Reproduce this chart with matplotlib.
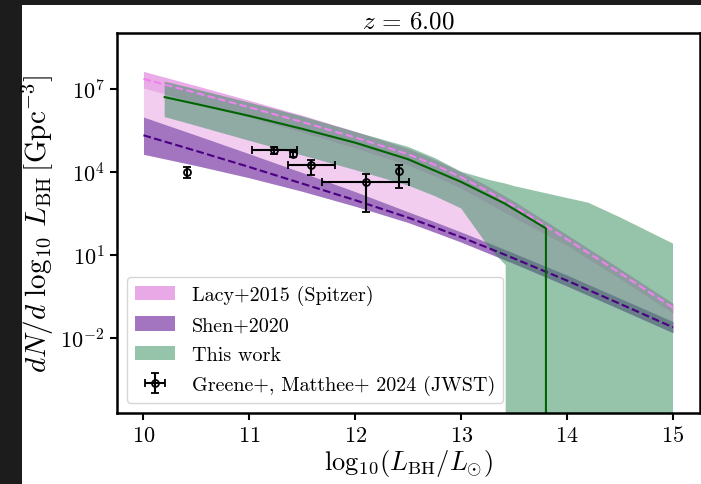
import numpy as np
import matplotlib
matplotlib.use("Agg")
import matplotlib.pyplot as plt
from matplotlib.patches import Rectangle, Patch
from matplotlib.ticker import FixedLocator, NullLocator, LogFormatterSciNotation

plt.rcParams['font.family'] = ['cmr10', 'DejaVu Serif']
plt.rcParams['mathtext.fontset'] = 'cm'
plt.rcParams['axes.formatter.use_mathtext'] = True

# ---------------- data (log10 of dN/dlogL in Gpc^-3) ----------------
x_lit = np.array([10.0, 10.5, 11.0, 11.5, 12.0, 12.5, 12.75, 13.0, 13.25, 13.5, 14.0, 14.5, 15.0])

lacy_mid = np.array([7.36, 6.85, 6.33, 5.80, 5.24, 4.63, 4.25, 3.80, 3.30, 2.75, 1.55, 0.33, -0.92])
lacy_hi = np.array([7.63, 7.11, 6.58, 6.04, 5.46, 4.84, 4.44, 3.99, 3.48, 2.93, 1.72, 0.49, -0.76])
lacy_lo = np.array([7.03, 6.50, 5.97, 5.43, 4.86, 4.24, 3.85, 3.40, 2.88, 2.34, 1.33, 0.13, -1.12])

shen_mid = np.array([5.32, 4.75, 4.17, 3.57, 2.97, 2.34, 1.99, 1.63, 1.25, 0.86, 0.06, -0.78, -1.63])
shen_hi = np.array([5.98, 5.32, 4.65, 3.97, 3.28, 2.55, 2.19, 1.82, 1.44, 1.05, 0.26, -0.58, -1.42])
shen_lo = np.array([4.63, 4.22, 3.78, 3.29, 2.75, 2.16, 1.81, 1.45, 1.06, 0.67, -0.14, -0.98, -1.83])

x_green = np.array([10.2, 10.5, 11.0, 11.5, 12.0, 12.5, 12.75, 13.0, 13.27, 13.42, 13.42,
                    13.5, 14.0, 14.2, 14.5, 15.0])
green_hi = np.array([7.26, 6.98, 6.50, 6.00, 5.44, 4.90, 4.50, 4.00, 3.70, 3.57, 3.57,
                     3.48, 3.05, 2.88, 2.35, 1.40])
# lower bound in linear units; 0 where the model predicts no objects
green_lo = np.array([10**5.98, 10**5.66, 10**5.12, 10**4.59, 10**4.06, 10**3.50, 10**3.12, 10**2.67,
                     10**1.22, 10**0.62, 0, 0, 0, 0, 0, 0])

x_gline = np.array([10.2, 10.5, 11.0, 11.5, 12.0, 12.5, 13.0, 13.41, 13.8, 13.8, 15.0])
gline = np.array([10**6.70, 10**6.45, 10**6.02, 10**5.55, 10**5.05, 10**4.45, 10**3.63,
                  10**2.85, 10**1.95, 0, 0])

# JWST points (Greene+, Matthee+ 2024)
jw_x = np.array([10.41, 11.23, 11.41, 11.58, 12.10, 12.41])
jw_y = np.array([3.99, 4.80, 4.63, 4.23, 3.63, 4.01])
jw_yhi = np.array([4.17, 4.89, 4.71, 4.41, 3.91, 4.23])
jw_ylo = np.array([3.79, 4.65, 4.53, 3.87, 2.55, 3.41])
jw_xlo = np.array([10.41, 11.02, 11.41, 11.36, 11.69, 12.41])
jw_xhi = np.array([10.41, 11.45, 11.41, 11.81, 12.51, 12.41])

floor = 1e-30

# ---------------- figure ----------------
W, H = 701, 485
fig = plt.figure(figsize=(W / 100, H / 100), dpi=100)
fig.patch.set_facecolor('#1c1c1c')
fig.patches.append(Rectangle((22 / W, 0), 1 - 22 / W, (H - 6) / H, transform=fig.transFigure,
                             facecolor='white', edgecolor='none', zorder=-10))

ax = fig.add_axes([117 / W, 71 / H, (699.5 - 117) / W, (414 - 34) / H])

lacy_c = 'orchid'
shen_c = (0.42, 0.12, 0.60)
green_c = 'seagreen'

ax.fill_between(x_lit, 10**shen_hi, 10**lacy_hi, color=lacy_c, alpha=0.35, lw=0)
ax.fill_between(x_lit, 10**lacy_lo, 10**lacy_hi, color=lacy_c, alpha=0.35, lw=0)
ax.fill_between(x_lit, 10**shen_lo, 10**shen_hi, color=shen_c, alpha=0.62, lw=0)
ax.fill_between(x_green, np.maximum(green_lo, floor), 10**green_hi, color=green_c, alpha=0.5, lw=0)

ax.plot(x_lit, 10**lacy_mid, ls='--', color='violet', lw=1.5)
ax.plot(x_lit, 10**shen_mid, ls='--', color='indigo', lw=1.5)
ax.plot(x_gline, np.maximum(gline, floor), color='darkgreen', lw=1.5)

eb = ax.errorbar(jw_x, 10**jw_y,
                 yerr=[10**jw_y - 10**jw_ylo, 10**jw_yhi - 10**jw_y],
                 xerr=[jw_x - jw_xlo, jw_xhi - jw_x],
                 fmt='o', mfc='none', mec='k', ecolor='k', color='k', ms=5, mew=1.3,
                 capsize=3, elinewidth=1.5, capthick=1.5, zorder=5)

ax.set_yscale('log')
ax.set_xlim(9.75, 15.25)
ax.set_ylim(10**-4.73, 10**9.02)
ax.yaxis.set_major_locator(FixedLocator([1e-2, 1e1, 1e4, 1e7]))
ax.yaxis.set_minor_locator(NullLocator())
ax.yaxis.set_major_formatter(LogFormatterSciNotation())
ax.set_xticks([10, 11, 12, 13, 14, 15])

for s in ax.spines.values():
    s.set_linewidth(1.8)
ax.tick_params(direction='out', length=5, width=1.5, labelsize=16, pad=4)

ax.set_title(r'$z\, =\, 6.00$', fontsize=18, pad=4)
ax.set_xlabel(r'$\mathrm{log}_{10}(L_{\rm BH}/L_{\odot})$', fontsize=19, labelpad=1)
ax.set_ylabel(r'$dN/d\ \log_{10}\,L_{\rm BH}\,[{\rm Gpc}^{-3}]$', fontsize=21, labelpad=3)

handles = [Patch(facecolor=lacy_c, alpha=0.6, edgecolor='none'),
           Patch(facecolor=shen_c, alpha=0.62, edgecolor='none'),
           Patch(facecolor=green_c, alpha=0.5, edgecolor='none'),
           eb]
labels = ['Lacy+2015 (Spitzer)', 'Shen+2020', 'This work', 'Greene+, Matthee+ 2024 (JWST)']
ax.legend(handles, labels, loc='lower left', fontsize=14.5, labelspacing=0.55)

fig.savefig('out.png', dpi=100, facecolor=fig.get_facecolor())
